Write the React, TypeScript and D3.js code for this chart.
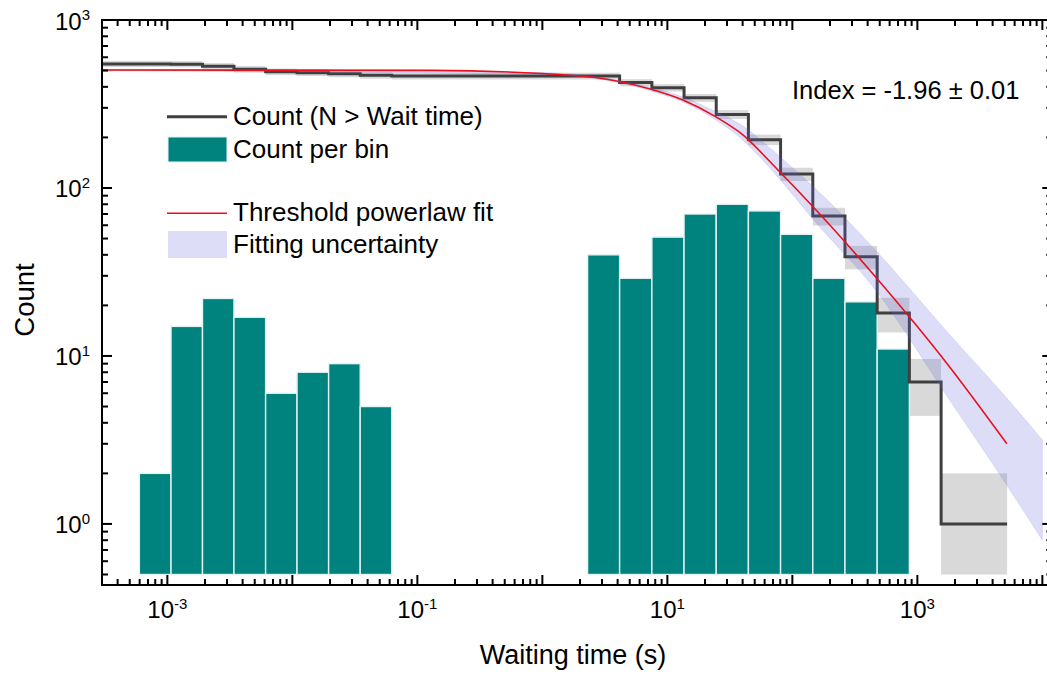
import React from "react";
import * as d3 from "d3";

// Histogram of waiting times: two groups of contiguous log-spaced bins (edges in seconds)
const group1Edges = [5.97e-4, 1.07e-3, 1.91e-3, 3.41e-3, 6.11e-3, 1.09e-2, 1.95e-2, 3.49e-2, 6.24e-2];
const group1Counts = [2, 15, 22, 17, 6, 8, 9, 5];
const group2Edges = [2.3, 4.15, 7.52, 13.6, 24.6, 44.5, 80.5, 145.7, 263.6, 477, 863];
const group2Counts = [40, 29, 51, 70, 80, 73, 53, 29, 21, 11];

// Cumulative count N(> waiting time), one level per step, with Poisson errors
const stepEdges = [3e-4, 1.07e-3, 1.91e-3, 3.41e-3, 6.11e-3, 1.09e-2, 1.95e-2, 3.49e-2, 6.24e-2, 4.15, 7.52, 13.6, 24.6, 44.5, 80.5, 145.7, 263.6, 477, 863, 1549, 5224];
const stepCounts = [548, 546, 531, 509, 492, 486, 478, 469, 464, 424, 395, 344, 274, 194, 121, 68, 39, 18, 7, 1];
const stepErrors = [23.4, 23.4, 23.0, 22.6, 22.2, 22.0, 21.9, 21.7, 21.5, 20.6, 19.9, 18.5, 16.6, 13.9, 11.0, 8.2, 6.2, 4.2, 2.6, 1.0];

// Threshold power-law fit of the cumulative distribution
const fitTimes = [3e-4, 0.13, 1, 2.9, 4.1, 7.4, 13.3, 24.5, 38, 79.8, 147, 473, 1718, 5200];
const fitCounts = [504, 501, 480, 450, 430, 387, 334, 265, 214, 124, 77, 29, 9.05, 3.0];

// Fit uncertainty envelope
const bandTimes = [3e-4, 1, 2.9, 7.4, 13.3, 24.5, 38, 79.8, 147, 473, 1718, 5200, 1e4];
const bandUpper = [510, 486, 456, 396, 348, 284, 240, 153, 102, 41.9, 14.0, 5.6, 3.16];
const bandLower = [498, 474, 444, 378, 325, 254, 200, 112, 65, 24.2, 5.8, 1.7, 0.8];

const xMajorExponents = [-3, -2, -1, 0, 1, 2, 3, 4];
const xLabelExponents = [-3, -1, 1, 3];
const yMajorExponents = [0, 1, 2, 3];

const indexLabel = "Index = -1.96 \u00b1 0.01";
const legendLabels = ["Count (N > Wait time)", "Count per bin", "Threshold powerlaw fit", "Fitting uncertainty"];

const W = 1047;
const H = 675;
const left = 102;
const top = 20;
const bottom = 585;
const xDomain: [number, number] = [3e-4, 1.2e4];
const right = left + 125 * Math.log10(xDomain[1] / xDomain[0]);
const barBase = 0.5;

const FONT = "'Liberation Sans', Arial, Helvetica, sans-serif";
const TEAL = "#00837f";
const STEP = "#3f3f3f";
const BOX = "#d9d9d9";
const RED = "#e8101c";
const BAND = "rgb(100,100,220)";

export default function App() {
  const x = d3.scaleLog().domain(xDomain).range([left, right]);
  const y = d3.scaleLog().domain([0.433, 1000]).range([bottom, top]);

  const bars = [
    ...group1Counts.map((c, i) => ({ lo: group1Edges[i], hi: group1Edges[i + 1], c })),
    ...group2Counts.map((c, i) => ({ lo: group2Edges[i], hi: group2Edges[i + 1], c })),
  ];

  const stepPts = stepCounts.map((n, i) => ({ t: stepEdges[i], n }));
  stepPts.push({ t: stepEdges[stepEdges.length - 1], n: stepCounts[stepCounts.length - 1] });
  const stepPath = d3
    .line<{ t: number; n: number }>()
    .x((d) => x(d.t))
    .y((d) => y(d.n))
    .curve(d3.curveStepAfter)(stepPts) as string;

  const fitPath = d3
    .line<number>()
    .x((_, i) => x(fitTimes[i]))
    .y((d) => y(d))
    .curve(d3.curveMonotoneX)(fitCounts) as string;

  const bandPath = d3
    .area<number>()
    .x((t) => x(t))
    .y0((_, i) => y(bandLower[i]))
    .y1((_, i) => y(bandUpper[i]))
    .curve(d3.curveMonotoneX)(bandTimes) as string;

  // minor tick positions (2..9 within each decade)
  const xMinor: number[] = [];
  for (let k = -4; k <= 4; k++) for (let m = 2; m <= 9; m++) {
    const v = m * Math.pow(10, k);
    if (v > xDomain[0] && v < xDomain[1]) xMinor.push(v);
  }
  const yMinor: number[] = [];
  for (let k = -1; k <= 2; k++) for (let m = 2; m <= 9; m++) {
    const v = m * Math.pow(10, k);
    if (v > 0.433 && v < 1000) yMinor.push(v);
  }
  const MAJ = 10;
  const MIN = 6;

  return (
    <svg width={W} height={H} style={{ position: "absolute", left: 0, top: 0 }} fontFamily={FONT}>
      <rect width={W} height={H} fill="#fff" />
      <defs>
        <clipPath id="plot">
          <rect x={left} y={top} width={right - left} height={bottom - top} />
        </clipPath>
      </defs>

      <g clipPath="url(#plot)">
        {stepCounts.map((n, i) => (
          <rect
            key={"b" + i}
            x={x(stepEdges[i])}
            width={x(stepEdges[i + 1]) - x(stepEdges[i])}
            y={y(n + stepErrors[i])}
            height={y(Math.max(n - stepErrors[i], barBase)) - y(n + stepErrors[i])}
            fill={BOX}
          />
        ))}
        {bars.map((b, i) => (
          <rect
            key={"h" + i}
            x={x(b.lo)}
            width={x(b.hi) - x(b.lo)}
            y={y(b.c)}
            height={y(barBase) - y(b.c)}
            fill={TEAL}
            stroke="#e4f2f1"
            strokeWidth={1.4}
          />
        ))}
        <path d={stepPath} fill="none" stroke={STEP} strokeWidth={3} />
        <path d={bandPath} fill={BAND} fillOpacity={0.22} stroke={BAND} strokeOpacity={0.15} strokeWidth={1} />
        <path d={fitPath} fill="none" stroke={RED} strokeWidth={1.6} />
      </g>

      {/* frame and inward ticks */}
      <g stroke="#000" strokeWidth={2}>
        <rect x={left} y={top} width={right - left} height={bottom - top} fill="none" />
        {xMajorExponents.map((e) => {
          const px = x(Math.pow(10, e));
          return (
            <g key={"xm" + e}>
              <line x1={px} x2={px} y1={bottom} y2={bottom - MAJ} />
              <line x1={px} x2={px} y1={top} y2={top + MAJ} />
            </g>
          );
        })}
        {xMinor.map((v) => {
          const px = x(v);
          return (
            <g key={"xn" + v}>
              <line x1={px} x2={px} y1={bottom} y2={bottom - MIN} />
              <line x1={px} x2={px} y1={top} y2={top + MIN} />
            </g>
          );
        })}
        {yMajorExponents.map((e) => {
          const py = y(Math.pow(10, e));
          return (
            <g key={"ym" + e}>
              <line x1={left} x2={left + MAJ} y1={py} y2={py} />
              <line x1={right} x2={right - MAJ} y1={py} y2={py} />
            </g>
          );
        })}
        {yMinor.map((v) => {
          const py = y(v);
          return (
            <g key={"yn" + v}>
              <line x1={left} x2={left + MIN} y1={py} y2={py} />
              <line x1={right} x2={right - MIN} y1={py} y2={py} />
            </g>
          );
        })}
      </g>

      {/* tick labels */}
      <g fill="#000">
        {xLabelExponents.map((e) => (
          <text key={"xl" + e} x={x(Math.pow(10, e))} y={618} textAnchor="middle" fontSize={24}>
            10
            <tspan fontSize={15} dy={-9.5}>{String(e)}</tspan>
          </text>
        ))}
        {yMajorExponents.map((e) => (
          <text key={"yl" + e} x={90} y={y(Math.pow(10, e)) + 9.5} textAnchor="end" fontSize={24}>
            10
            <tspan fontSize={15} dy={-9.5}>{String(e)}</tspan>
          </text>
        ))}
      </g>

      {/* axis titles */}
      <text x={573} y={664} textAnchor="middle" fontSize={27}>Waiting time (s)</text>
      <text transform="translate(34,300) rotate(-90)" textAnchor="middle" fontSize={27.5}>Count</text>

      <text x={792} y={99} fontSize={25.5}>{indexLabel}</text>

      {/* legend */}
      <line x1={167} x2={227} y1={116.7} y2={116.7} stroke={STEP} strokeWidth={3} />
      <rect x={168} y={137} width={59} height={25} fill={TEAL} stroke="#e4f2f1" strokeWidth={1} />
      <line x1={167} x2={227} y1={213.3} y2={213.3} stroke={RED} strokeWidth={1.6} />
      <rect x={168} y={231} width={59} height={27} fill={BAND} fillOpacity={0.22} />
      {legendLabels.map((s, i) => (
        <text key={s} x={233} y={[125, 158, 221, 253][i]} fontSize={26}>{s}</text>
      ))}
    </svg>
  );
}
